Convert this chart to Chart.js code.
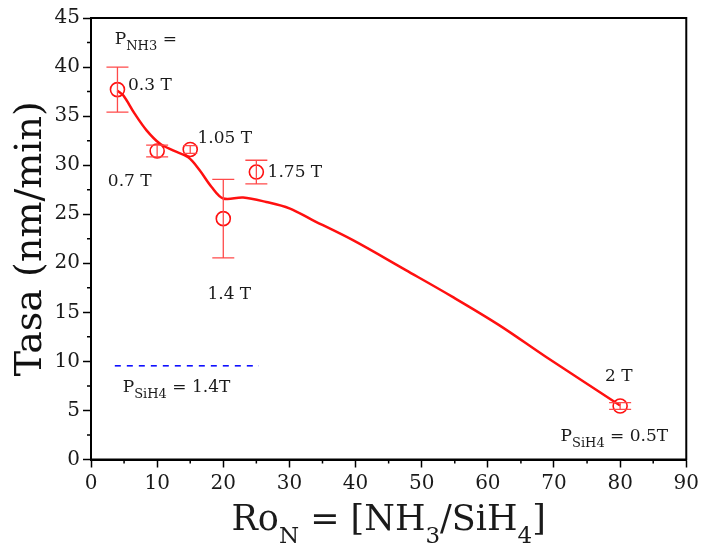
<!DOCTYPE html>
<html>
<head>
<meta charset="utf-8">
<script src="https://cdn.jsdelivr.net/npm/chart.js@4.4.1/dist/chart.umd.min.js"></script>
<style>
  html, body { margin: 0; padding: 0; background: #fff; }
  #wrap { width: 703px; height: 547px; }
</style>
</head>
<body>
<div id="wrap"><canvas id="rateChart"></canvas></div>
<script>
// measured points (Ro_N, deposition rate) with error bars
const roValues = [4, 10, 15, 20, 25, 80];
const rateValues = [37.7, 31.45, 31.6, 24.55, 29.3, 5.45];
const rateErrors = [2.3, 0.6, 0.4, 4.0, 1.2, 0.35];

// fitted curve
const fitX = [4, 4.9, 6.6, 8.4, 10.4, 12.4, 14.7, 16.4, 18.2, 20.0, 23.0, 26.5, 30.0, 33.5, 39.6, 47.6, 54.6, 61.7, 68.7, 80];
const fitY = [37.6, 37.1, 35.25, 33.55, 32.2, 31.5, 30.8, 29.5, 27.8, 26.6, 26.7, 26.25, 25.6, 24.4, 22.35, 19.3, 16.6, 13.7, 10.5, 5.5];

// blue dashed reference
const refX = [3.6, 25.4];
const refY = [9.55, 9.55];

const xTickValues = [0, 10, 20, 30, 40, 50, 60, 70, 80, 90];
const yTickValues = [0, 5, 10, 15, 20, 25, 30, 35, 40, 45];

// text labels: [x, y, parts]  (part = [text, isSub])
const notes = [
  [3.6, 42.4, [['P', 0], ['NH3', 1], [' =', 0]]],
  [5.6, 37.7, [['0.3 T', 0]]],
  [16.1, 32.3, [['1.05 T', 0]]],
  [2.55, 27.85, [['0.7 T', 0]]],
  [26.7, 28.8, [['1.75 T', 0]]],
  [17.6, 16.35, [['1.4 T', 0]]],
  [4.8, 6.9, [['P', 0], ['SiH4', 1], [' = 1.4T', 0]]],
  [77.7, 8.0, [['2 T', 0]]],
  [71.0, 1.9, [['P', 0], ['SiH4', 1], [' = 0.5T', 0]]]
];

const FONT = '"DejaVu Serif", Georgia, serif';
const RED = '#ff1010';

function drawParts(ctx, parts, x, y, size, subSize, subDrop, center) {
  const widths = parts.map(p => {
    ctx.font = (p[1] ? subSize : size) + 'px ' + FONT;
    return ctx.measureText(p[0]).width;
  });
  let cx = center ? x - widths.reduce((a, b) => a + b, 0) / 2 : x;
  parts.forEach((p, i) => {
    ctx.font = (p[1] ? subSize : size) + 'px ' + FONT;
    ctx.fillText(p[0], cx, p[1] ? y + subDrop : y);
    cx += widths[i];
  });
}

const extrasPlugin = {
  id: 'extras',
  afterDatasetsDraw(chart) {
    const ctx = chart.ctx;
    const xs = chart.scales.x, ys = chart.scales.y;
    const area = chart.chartArea;

    // error bars
    ctx.save();
    ctx.strokeStyle = '#ff4a4a';
    ctx.lineWidth = 1.3;
    roValues.forEach((rv, i) => {
      const px = xs.getPixelForValue(rv);
      const top = ys.getPixelForValue(rateValues[i] + rateErrors[i]);
      const bot = ys.getPixelForValue(rateValues[i] - rateErrors[i]);
      const cap = i === 2 ? 7 : 11;
      ctx.beginPath();
      ctx.moveTo(px, top); ctx.lineTo(px, bot);
      ctx.moveTo(px - cap, top); ctx.lineTo(px + cap, top);
      ctx.moveTo(px - cap, bot); ctx.lineTo(px + cap, bot);
      ctx.stroke();
    });
    ctx.restore();

    // frame
    ctx.save();
    ctx.strokeStyle = '#000';
    ctx.lineWidth = 2;
    ctx.strokeRect(area.left, area.top, area.right - area.left, area.bottom - area.top);

    // minor ticks
    ctx.lineWidth = 1.5;
    ctx.beginPath();
    for (let v = 5; v < 90; v += 10) {
      const px = xs.getPixelForValue(v);
      ctx.moveTo(px, area.bottom); ctx.lineTo(px, area.bottom + 4);
    }
    for (let v = 2.5; v < 45; v += 5) {
      const py = ys.getPixelForValue(v);
      ctx.moveTo(area.left, py); ctx.lineTo(area.left - 4, py);
    }
    ctx.stroke();

    // annotations
    ctx.fillStyle = '#1a1a1a';
    ctx.textBaseline = 'alphabetic';
    notes.forEach(n => {
      drawParts(ctx, n[2], xs.getPixelForValue(n[0]), ys.getPixelForValue(n[1]), 17, 13, 6, false);
    });

    // x axis title with subscripts
    const xt = [['Ro', 0], ['N', 1], [' = [NH', 0], ['3', 1], ['/SiH', 0], ['4', 1], [']', 0]];
    drawParts(ctx, xt, (area.left + area.right) / 2, 530, 35, 23, 13, true);
    ctx.restore();
  }
};

const ctx = document.getElementById('rateChart').getContext('2d');
const rateChart = new Chart(ctx, {
  type: 'scatter',
  data: {
    datasets: [
      {
        type: 'line',
        label: 'fit',
        data: fitX.map((x, i) => ({ x: x, y: fitY[i] })),
        borderColor: RED,
        borderWidth: 2.5,
        pointRadius: 0,
        tension: 0.35,
        fill: false
      },
      {
        label: 'Tasa',
        data: roValues.map((x, i) => ({ x: x, y: rateValues[i] })),
        borderColor: RED,
        backgroundColor: 'rgba(0,0,0,0)',
        borderWidth: 1.6,
        pointRadius: 7,
        pointHoverRadius: 7
      },
      {
        type: 'line',
        label: 'ref',
        data: refX.map((x, i) => ({ x: x, y: refY[i] })),
        borderColor: '#1010ff',
        borderWidth: 1.6,
        borderDash: [6, 6],
        pointRadius: 0,
        fill: false
      }
    ]
  },
  options: {
    responsive: true,
    maintainAspectRatio: false,
    animation: false,
    layout: { padding: { top: 18, right: 14, left: 0, bottom: 0 } },
    plugins: { legend: { display: false }, tooltip: { enabled: false } },
    scales: {
      x: {
        type: 'linear',
        min: 0, max: 90,
        afterFit: (s) => { s.height = 87.5; },
        afterBuildTicks: (s) => { s.ticks = xTickValues.map(v => ({ value: v })); },
        grid: { drawOnChartArea: false, drawTicks: true, tickLength: 8, tickColor: '#000', tickWidth: 1.5 },
        border: { display: true, color: '#000', width: 2 },
        ticks: { color: '#1a1a1a', padding: 4, font: { family: FONT, size: 20 }, maxRotation: 0 }
      },
      y: {
        min: 0, max: 45,
        afterFit: (s) => { s.width = 91; },
        afterBuildTicks: (s) => { s.ticks = yTickValues.map(v => ({ value: v })); },
        grid: { drawOnChartArea: false, drawTicks: true, tickLength: 8, tickColor: '#000', tickWidth: 1.5 },
        border: { display: true, color: '#000', width: 2 },
        ticks: { color: '#1a1a1a', padding: 3, font: { family: FONT, size: 20 } },
        title: {
          display: true,
          text: 'Tasa (nm/min)',
          color: '#111',
          font: { family: FONT, size: 38 },
          padding: { top: 8, bottom: 0 }
        }
      }
    }
  },
  plugins: [extrasPlugin]
});
</script>
</body>
</html>
